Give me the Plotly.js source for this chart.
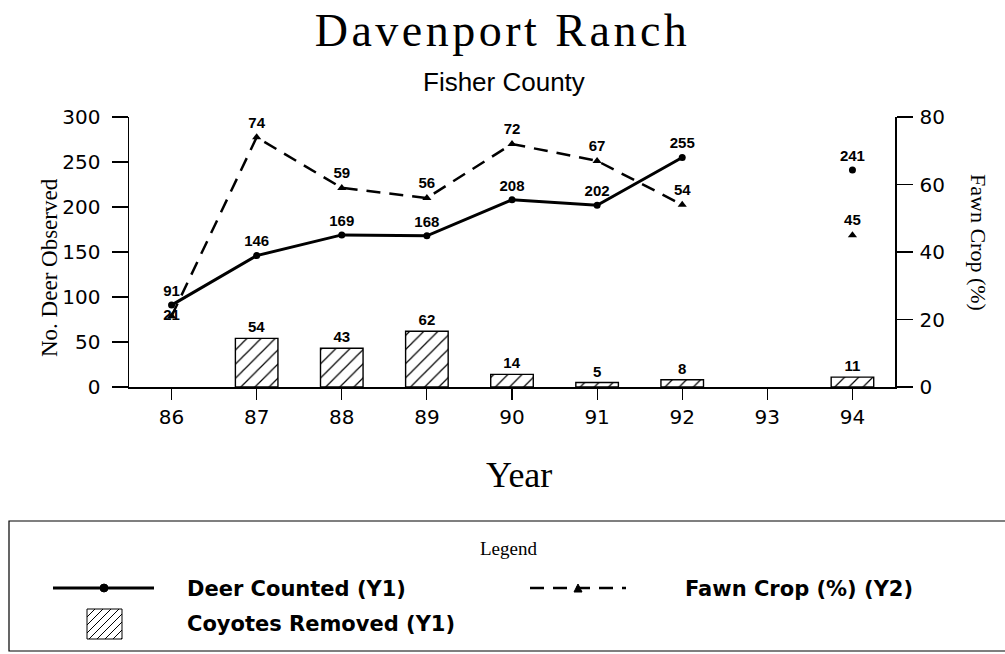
<!DOCTYPE html>
<html>
<head>
<meta charset="utf-8">
<script src="https://cdn.plot.ly/plotly-3.0.1.min.js"></script>
<style>
html,body{margin:0;padding:0;background:#fff;}
#chart{width:1005px;height:654px;}
#chart .gtitle{letter-spacing:3.5px;}
</style>
</head>
<body>
<div id="chart"></div>
<script>
// ---- data ----
const years = [86, 87, 88, 89, 90, 91, 92, 93, 94];
const yearLabels = ["86", "87", "88", "89", "90", "91", "92", "93", "94"];
const deerCounted = [91, 146, 169, 168, 208, 202, 255, null, 241];
const fawnCrop = [21, 74, 59, 56, 72, 67, 54, null, 45];
const coyotesRemoved = [null, 54, 43, 62, 14, 5, 8, null, 11];
const leftTicks = [0, 50, 100, 150, 200, 250, 300];
const rightTicks = [0, 20, 40, 60, 80];

// ---- geometry helpers (plot area in pixels) ----
const W = 1005, H = 654;
const PL = 129, PR = 895, PT = 117, PB = 387;
const px = x => (x - PL) / (PR - PL);
const py = y => (PB - y) / (PB - PT);

const SANS = "Liberation Sans, Arial, sans-serif";
const WIDE = "DejaVu Sans, Verdana, sans-serif";
const SERIF = "Liberation Serif, Times New Roman, serif";
const lbl = a => a.map(v => (v == null ? "" : String(v)));

// label placement: first fawn label sits on its marker (overlaps the deer label otherwise)
const fawnTextPos = years.map((_, i) => (i === 0 ? "middle center" : "top center"));

const traces = [
  {
    type: "bar", name: "Coyotes Removed (Y1)", x: years, y: coyotesRemoved,
    width: 0.5, yaxis: "y",
    marker: { color: "white", line: { color: "black", width: 1.4 },
      pattern: { shape: "/", fgcolor: "black", bgcolor: "white", size: 10, solidity: 0.12 } },
    text: lbl(coyotesRemoved), textposition: "outside", cliponaxis: false,
    textfont: { family: SANS, size: 15, color: "black", weight: "bold" },
    showlegend: false, hoverinfo: "x+y"
  },
  {
    type: "scatter", mode: "lines+markers+text", name: "Deer Counted (Y1)",
    x: years, y: deerCounted, yaxis: "y", connectgaps: false,
    line: { color: "black", width: 3 },
    marker: { symbol: "circle", size: 7, color: "black" },
    text: lbl(deerCounted), textposition: "top center", cliponaxis: false,
    textfont: { family: SANS, size: 15, color: "black", weight: "bold" },
    showlegend: false
  },
  {
    type: "scatter", mode: "lines+markers+text", name: "Fawn Crop (%) (Y2)",
    x: years, y: fawnCrop, yaxis: "y2", connectgaps: false,
    line: { color: "black", width: 2.5, dash: "14px,9px" },
    marker: { symbol: "triangle-up", size: 8, color: "black" },
    text: lbl(fawnCrop), textposition: fawnTextPos, cliponaxis: false,
    textfont: { family: SANS, size: 15, color: "black", weight: "bold" },
    showlegend: false
  }
];

// ---- custom legend (shapes + annotations) ----
const shapes = [];
shapes.push({ type: "rect", xref: "paper", yref: "paper",
  x0: px(9), x1: px(1012), y0: py(651), y1: py(521),
  line: { color: "black", width: 1.2 }, fillcolor: "rgba(0,0,0,0)" });
shapes.push({ type: "line", xref: "paper", yref: "paper",
  x0: px(53), x1: px(154), y0: py(588), y1: py(588), line: { color: "black", width: 3 } });
shapes.push({ type: "circle", xref: "paper", yref: "paper",
  x0: px(100), x1: px(108), y0: py(592), y1: py(584), fillcolor: "black", line: { color: "black", width: 1 } });
shapes.push({ type: "line", xref: "paper", yref: "paper",
  x0: px(530), x1: px(626), y0: py(588), y1: py(588), line: { color: "black", width: 2.5, dash: "14px,9px" } });
shapes.push({ type: "path", xref: "paper", yref: "paper",
  path: `M ${px(574)} ${py(592)} L ${px(582)} ${py(592)} L ${px(578)} ${py(584)} Z`,
  fillcolor: "black", line: { color: "black", width: 1 } });
const hx0 = 87, hx1 = 122, hy0 = 609, hy1 = 639;
shapes.push({ type: "rect", xref: "paper", yref: "paper",
  x0: px(hx0), x1: px(hx1), y0: py(hy1), y1: py(hy0), fillcolor: "white", line: { color: "black", width: 1 } });
let hp = "";
for (let k = -(hy1 - hy0); k < (hx1 - hx0); k += 8) {
  const t0 = Math.max(0, -k), t1 = Math.min(hy1 - hy0, hx1 - hx0 - k);
  if (t1 <= t0) continue;
  hp += `M ${px(hx0 + k + t0)} ${py(hy1 - t0)} L ${px(hx0 + k + t1)} ${py(hy1 - t1)} `;
}
shapes.push({ type: "path", xref: "paper", yref: "paper", path: hp, line: { color: "black", width: 1 } });

const A = (text, x, y, opts) => Object.assign({
  text, xref: "paper", yref: "paper", x: px(x), y: py(y),
  showarrow: false, xanchor: "center", yanchor: "middle"
}, opts);

const LEGFONT = { family: WIDE, size: 21, color: "black", weight: "bold" };
const annotations = [
  A("Fisher County", 504, 82, { font: { family: SANS, size: 26, color: "black" } }),
  A("Year", 519, 475, { font: { family: SERIF, size: 36, color: "black" } }),
  A("No. Deer Observed", 49, 268, { textangle: -90, font: { family: SERIF, size: 23, color: "black" } }),
  A("Fawn Crop (%)", 979, 242, { textangle: 90, font: { family: SERIF, size: 22, color: "black" } }),
  A("Legend", 508, 548, { font: { family: SERIF, size: 19, color: "black" } }),
  A("Deer Counted (Y1)", 185, 589, { xanchor: "left", font: LEGFONT }),
  A("Fawn Crop (%) (Y2)", 683, 589, { xanchor: "left", font: LEGFONT }),
  A("Coyotes Removed (Y1)", 185, 624, { xanchor: "left", font: LEGFONT })
];

const layout = {
  width: W, height: H,
  paper_bgcolor: "white", plot_bgcolor: "white",
  margin: { l: PL, r: W - PR, t: PT, b: H - PB, pad: 0 },
  title: { text: "Davenport Ranch", x: 0.5, xref: "container", y: 1 - 30 / H, yref: "container",
    xanchor: "center", yanchor: "middle", font: { family: SERIF, size: 46, color: "black" } },
  showlegend: false,
  xaxis: {
    range: [85.5, 94.5], tickmode: "array", tickvals: years, ticktext: yearLabels,
    ticks: "outside", ticklen: 11, tickwidth: 1.2, tickcolor: "black",
    showline: true, linecolor: "black", linewidth: 1.5, showgrid: false, zeroline: false,
    tickfont: { family: WIDE, size: 20, color: "black" }, fixedrange: true
  },
  yaxis: {
    range: [0, 300], tickmode: "array", tickvals: leftTicks,
    ticks: "outside", ticklen: 16, tickwidth: 1.2, tickcolor: "black", ticklabelstandoff: 7,
    showline: true, linecolor: "black", linewidth: 1.5, showgrid: false, zeroline: false,
    tickfont: { family: WIDE, size: 20, color: "black" }, fixedrange: true
  },
  yaxis2: {
    overlaying: "y", side: "right", range: [0, 80], tickmode: "array", tickvals: rightTicks,
    ticks: "outside", ticklen: 16, tickwidth: 1.2, tickcolor: "black", ticklabelstandoff: 3,
    showline: true, linecolor: "black", linewidth: 1.5, showgrid: false, zeroline: false,
    tickfont: { family: WIDE, size: 20, color: "black" }, fixedrange: true
  },
  shapes, annotations
};

Plotly.newPlot("chart", traces, layout, { displayModeBar: false, staticPlot: true });
</script>
</body>
</html>
